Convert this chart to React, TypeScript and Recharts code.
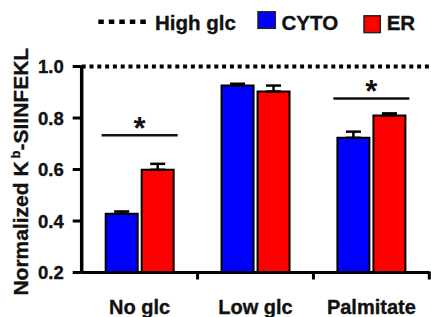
import React from 'react';
import { BarChart, Bar, XAxis, YAxis, ErrorBar, ReferenceLine, ReferenceDot } from 'recharts';

const categories = ['No glc', 'Low glc', 'Palmitate'];
const cytoValues = [0.428, 0.926, 0.723];
const cytoErrors = [0.009, 0.007, 0.024];
const erValues = [0.599, 0.903, 0.81];
const erErrors = [0.023, 0.023, 0.008];
const yTicks = [0.2, 0.4, 0.6, 0.8, 1.0];
const highGlc = 1.0;
const sigMarks = [
  { category: 'No glc', y: 0.733 },
  { category: 'Palmitate', y: 0.876 },
];

const CYTO_COLOR = '#0000FF';
const ER_COLOR = '#FF0000';
const FONT = '"Liberation Sans", Arial, sans-serif';
const INK = '#111';

const data = categories.map((name, i) => ({
  name,
  cyto: cytoValues[i],
  cytoErr: [0, cytoErrors[i]],
  er: erValues[i],
  erErr: [0, erErrors[i]],
}));

// category labels, with the little tick on the right edge of each band
const XTick = (props: any) => {
  const { x, y, payload, width, visibleTicksCount } = props;
  const half = width && visibleTicksCount ? width / visibleTicksCount / 2 : payload?.offset ?? 0;
  return (
    <g>
      <rect x={x + half - 1.5} y={y - 1} width={3} height={8} fill="#000" />
      <text
        x={x}
        y={y + 41}
        textAnchor="middle"
        fontFamily={FONT}
        fontWeight="bold"
        fontSize={20}
        fill={INK}
        stroke={INK}
        strokeWidth={0.35}
      >
        {payload.value}
      </text>
    </g>
  );
};

const SigMark = (props: any) => {
  const { cx, cy } = props;
  return (
    <g>
      <line x1={cx - 38} x2={cx + 38} y1={cy} y2={cy} stroke={INK} strokeWidth={2.5} />
      <text x={cx} y={cy + 4} textAnchor="middle" fontFamily={FONT} fontWeight="bold" fontSize={31} fill={INK}>
        *
      </text>
    </g>
  );
};

const boldText = { fontFamily: FONT, fontWeight: 'bold' as const, fill: INK, stroke: INK, strokeWidth: 0.35 };

export default function App() {
  return (
    <div style={{ position: 'absolute', left: 0, top: 0, width: 431, height: 317, background: '#fff' }}>
      <BarChart
        width={431}
        height={317}
        data={data}
        margin={{ top: 66.5, right: 1.7, bottom: 0, left: 0 }}
        barCategoryGap="20.7%"
        barGap={4}
      >
        <XAxis
          dataKey="name"
          height={44.5}
          interval={0}
          tickLine={false}
          tickSize={0}
          tickMargin={0}
          axisLine={{ stroke: '#000', strokeWidth: 3 }}
          tick={<XTick />}
        />
        <YAxis
          width={81.7}
          domain={[0.2, 1]}
          ticks={yTicks}
          interval={0}
          tickFormatter={(v: number) => v.toFixed(1)}
          tickSize={9}
          tickMargin={9}
          axisLine={{ stroke: '#000', strokeWidth: 3.5 }}
          tickLine={{ stroke: '#000', strokeWidth: 3 }}
          tick={{ ...boldText, fontSize: 18.5 }}
        />
        <ReferenceLine y={highGlc} stroke="#000" strokeWidth={4} strokeDasharray="4 3.8" />
        <Bar dataKey="cyto" name="CYTO" fill={CYTO_COLOR} stroke="#000" strokeWidth={2} isAnimationActive={false}>
          <ErrorBar dataKey="cytoErr" direction="y" width={7.5} stroke="#000" strokeWidth={2.5} />
        </Bar>
        <Bar dataKey="er" name="ER" fill={ER_COLOR} stroke="#000" strokeWidth={2} isAnimationActive={false}>
          <ErrorBar dataKey="erErr" direction="y" width={7.5} stroke="#000" strokeWidth={2.5} />
        </Bar>
        {sigMarks.map((s) => (
          <ReferenceDot key={s.category} x={s.category} y={s.y} r={0} shape={SigMark} />
        ))}
      </BarChart>

      {/* legend + y title */}
      <svg width={431} height={317} style={{ position: 'absolute', left: 0, top: 0, pointerEvents: 'none' }}>
        <line x1={98.3} x2={145.8} y1={21.7} y2={21.7} stroke="#000" strokeWidth={4.5} strokeDasharray="5.5 5" />
        <text x={155} y={30} fontSize={20.5} {...boldText}>High glc</text>
        <rect x={258} y={11.8} width={17.3} height={16.5} fill={CYTO_COLOR} stroke="#222" strokeWidth={1.5} />
        <text x={281.5} y={30} fontSize={20.5} {...boldText}>CYTO</text>
        <rect x={364} y={15.8} width={16.3} height={16.8} fill={ER_COLOR} stroke="#222" strokeWidth={1.5} />
        <text x={386.7} y={30} fontSize={20.5} {...boldText}>ER</text>

        <text
          x={28}
          y={171.7}
          transform="rotate(-90 28 171.7)"
          textAnchor="middle"
          fontSize={21}
          {...boldText}
        >
          Normalized K
          <tspan dx={3} dy={-8} fontSize={13}>b</tspan>
          <tspan dy={8}>-SIINFEKL</tspan>
        </text>
      </svg>
    </div>
  );
}
